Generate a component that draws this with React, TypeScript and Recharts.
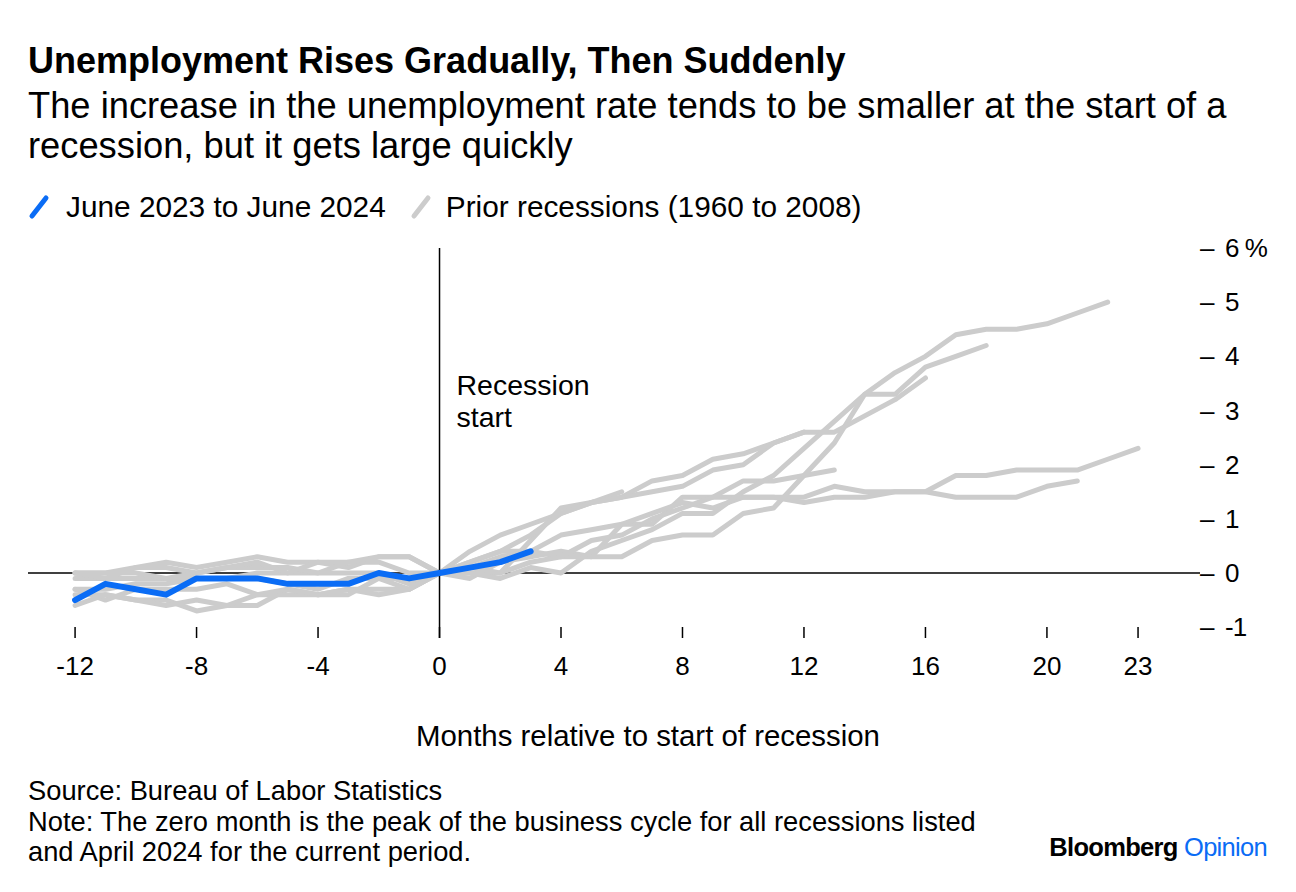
import { LineChart, Line, XAxis, YAxis, ReferenceLine } from 'recharts';

const months = [-12, -11, -10, -9, -8, -7, -6, -5, -4, -3, -2, -1, 0, 1, 2, 3, 4, 5, 6, 7, 8, 9, 10, 11, 12, 13, 14, 15, 16, 17, 18, 19, 20, 21, 22, 23];

// change in unemployment rate vs month 0, starting at month -12
const current = [-0.5, -0.2, -0.3, -0.4, -0.1, -0.1, -0.1, -0.2, -0.2, -0.2, 0.0, -0.1, 0, 0.1, 0.2, 0.4];
const r1960 = [0, 0, 0.1, 0.2, 0.1, 0.2, 0.3, 0.2, 0.2, 0.1, 0.3, 0.3, 0, -0.1, 0.2, 0.3, 0.4, 0.3, 0.9, 0.9, 1.4, 1.4, 1.7, 1.7, 1.8, 1.9];
const r1969 = [-0.1, -0.1, -0.1, -0.1, -0.1, -0.1, 0, 0, 0, 0.2, 0.2, 0, 0, 0.4, 0.7, 0.9, 1.1, 1.3, 1.4, 1.5, 1.6, 1.9, 2.0, 2.4, 2.6];
const r1973 = [0, -0.1, 0.1, 0.1, 0, 0.1, 0.1, 0.1, 0, 0, 0, -0.2, 0, 0.1, 0.3, 0.4, 0.3, 0.3, 0.3, 0.6, 0.7, 0.7, 1.1, 1.2, 1.8, 2.4, 3.3, 3.3, 3.8, 4.0, 4.2];
const r1980 = [-0.4, -0.4, -0.5, -0.5, -0.7, -0.6, -0.6, -0.3, -0.4, -0.3, -0.4, -0.3, 0, 0, 0, 0.6, 1.2, 1.3, 1.5];
const r1981 = [0, 0, 0, -0.1, 0, 0.1, 0.2, 0, 0.2, 0.2, 0.3, 0.3, 0, 0.2, 0.4, 0.7, 1.1, 1.3, 1.4, 1.7, 1.8, 2.1, 2.2, 2.4, 2.6, 2.6, 2.9, 3.2, 3.6];
const r1990 = [-0.3, -0.3, -0.2, -0.2, -0.1, -0.1, -0.1, -0.2, -0.3, -0.1, -0.1, -0.3, 0, 0.2, 0.4, 0.4, 0.7, 0.8, 0.9, 1.1, 1.3, 1.2, 1.4, 1.4, 1.3, 1.4, 1.4, 1.5, 1.5, 1.8, 1.8, 1.9, 1.9, 1.9, 2.1, 2.3];
const r2001 = [-0.3, -0.5, -0.3, -0.3, -0.3, -0.2, -0.4, -0.4, -0.4, -0.4, -0.1, -0.1, 0, 0.1, 0, 0.2, 0.3, 0.6, 0.7, 1.0, 1.2, 1.4, 1.4, 1.4, 1.4, 1.6, 1.5, 1.5, 1.5, 1.4, 1.4, 1.4, 1.6, 1.7];
const r2008 = [-0.6, -0.4, -0.5, -0.6, -0.5, -0.6, -0.4, -0.3, -0.4, -0.3, -0.3, -0.3, 0, 0, -0.1, 0.1, 0, 0.4, 0.6, 0.8, 1.1, 1.1, 1.5, 1.8, 2.3, 2.8, 3.3, 3.7, 4.0, 4.4, 4.5, 4.5, 4.6, 4.8, 5.0];

const priorKeys = ['r1960', 'r1969', 'r1973', 'r1980', 'r1981', 'r1990', 'r2001', 'r2008'];
const xTicks = [-12, -8, -4, 0, 4, 8, 12, 16, 20, 23];
const yTicks = [-1, 0, 1, 2, 3, 4, 5, 6];

const rows = months.map((m, i) => ({
  month: m,
  current: current[i],
  r1960: r1960[i],
  r1969: r1969[i],
  r1973: r1973[i],
  r1980: r1980[i],
  r1981: r1981[i],
  r1990: r1990[i],
  r2001: r2001[i],
  r2008: r2008[i],
}));

const FONT = '"Liberation Sans", Arial, sans-serif';
const BLUE = '#0a6cf5';
const GRAY = '#cccccc';

const XTick = (props: any) => {
  const { x, y, payload } = props;
  return (
    <g>
      <line x1={x} x2={x} y1={y - 11} y2={y} stroke="#000" strokeWidth={1.5} />
      <text x={x} y={y + 36.5} textAnchor="middle" fontSize={26} fill="#000" fontFamily={FONT}>
        {payload.value}
      </text>
    </g>
  );
};

const YTick = (props: any) => {
  const { x, y, payload } = props;
  const label = payload.value === 6 ? '6 %' : String(payload.value);
  return (
    <g>
      <text x={x} y={y} dy={9} fontSize={26} fill="#000" fontFamily={FONT}>–</text>
      <text x={x + 25} y={y} dy={9} fontSize={26} fill="#000" fontFamily={FONT} letterSpacing={-1}>{label}</text>
    </g>
  );
};

const RecessionLabel = (props: any) => {
  const { viewBox } = props;
  return (
    <text x={viewBox.x + 17} y={viewBox.y + 147} fontSize={28.5} fill="#000" fontFamily={FONT}>
      <tspan x={viewBox.x + 17}>Recession</tspan>
      <tspan x={viewBox.x + 17} dy={32}>start</tspan>
    </text>
  );
};

const Slash = ({ color }: { color: string }) => (
  <svg width={22} height={26} style={{ display: 'block' }}>
    <line x1={4} y1={22} x2={18} y2={4} stroke={color} strokeWidth={5} strokeLinecap="round" />
  </svg>
);

export default function App() {
  return (
    <div style={{ position: 'absolute', left: 0, top: 0, width: 1296, height: 892, background: '#fff', fontFamily: FONT, color: '#000' }}>
      <div style={{ position: 'absolute', left: 28, top: 41, fontSize: 36, fontWeight: 700, lineHeight: '40px', whiteSpace: 'nowrap' }}>
        Unemployment Rises Gradually, Then Suddenly
      </div>
      <div style={{ position: 'absolute', left: 28, top: 86, width: 1240, fontSize: 36.3, lineHeight: '40px' }}>
        The increase in the unemployment rate tends to be smaller at the start of a recession, but it gets large quickly
      </div>
      <div style={{ position: 'absolute', left: 28, top: 192, display: 'flex', alignItems: 'center', fontSize: 29.8, lineHeight: '30px', whiteSpace: 'nowrap' }}>
        <Slash color={BLUE} />
        <span style={{ marginLeft: 16 }}>June 2023 to June 2024</span>
        <span style={{ marginLeft: 24 }}><Slash color={GRAY} /></span>
        <span style={{ marginLeft: 14 }}>Prior recessions (1960 to 2008)</span>
      </div>

      <div style={{ position: 'absolute', left: 0, top: 220 }}>
        <LineChart width={1296} height={470} data={rows} margin={{ top: 28, right: 26, bottom: 0, left: 28 }}>
          <XAxis
            dataKey="month"
            type="number"
            domain={[-13.55, 25.04]}
            ticks={xTicks}
            axisLine={false}
            tickLine={false}
            tickSize={0}
            tickMargin={0}
            height={52}
            tick={<XTick />}
            interval={0}
            allowDataOverflow
          />
          <YAxis
            orientation="right"
            type="number"
            domain={[-1.2, 6]}
            ticks={yTicks}
            axisLine={false}
            tickLine={false}
            tickSize={0}
            tickMargin={0}
            width={70}
            tick={<YTick />}
            interval={0}
            allowDataOverflow
          />
          <ReferenceLine y={0} stroke="#000" strokeWidth={1.5} />
          {priorKeys.map((k) => (
            <Line
              key={k}
              dataKey={k}
              type="linear"
              stroke={GRAY}
              strokeWidth={5}
              strokeLinecap="round"
              strokeLinejoin="round"
              dot={false}
              activeDot={false}
              isAnimationActive={false}
            />
          ))}
          <ReferenceLine x={0} stroke="#000" strokeWidth={1.5} label={<RecessionLabel />} />
          <Line
            dataKey="current"
            type="linear"
            stroke={BLUE}
            strokeWidth={6}
            strokeLinecap="round"
            strokeLinejoin="round"
            dot={false}
            activeDot={false}
            isAnimationActive={false}
          />
        </LineChart>
      </div>

      <div style={{ position: 'absolute', left: 0, width: 1296, top: 719, textAlign: 'center', fontSize: 29.4, lineHeight: '34px' }}>
        Months relative to start of recession
      </div>
      <div style={{ position: 'absolute', left: 28, top: 776, fontSize: 27.3, lineHeight: '30.5px', whiteSpace: 'nowrap' }}>
        <div>Source: Bureau of Labor Statistics</div>
        <div>Note: The zero month is the peak of the business cycle for all recessions listed</div>
        <div>and April 2024 for the current period.</div>
      </div>
      <div style={{ position: 'absolute', right: 29, top: 832, fontSize: 25.5, fontWeight: 700, letterSpacing: -0.7, lineHeight: '30px', whiteSpace: 'nowrap' }}>
        Bloomberg <span style={{ color: BLUE, fontWeight: 400 }}>Opinion</span>
      </div>
    </div>
  );
}
